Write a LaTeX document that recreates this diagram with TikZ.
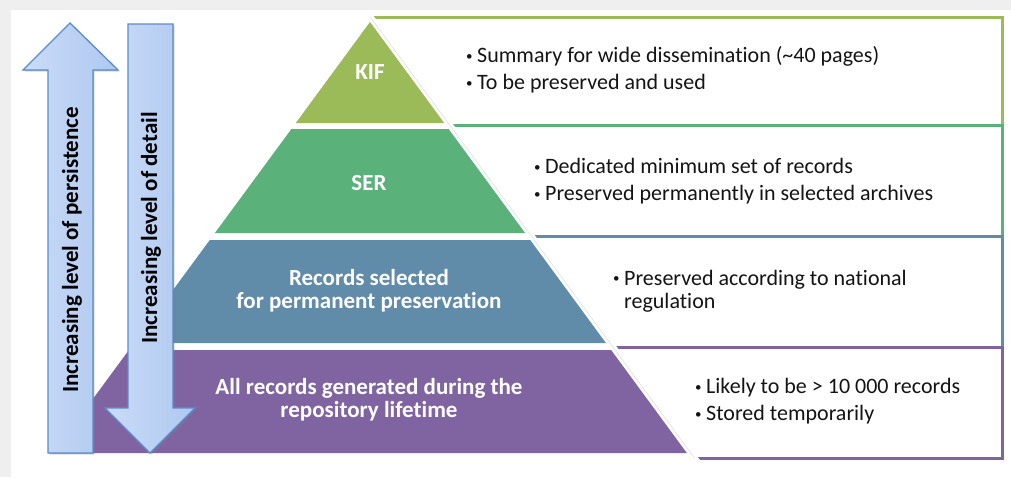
\documentclass[tikz,border=0pt]{standalone}
\usepackage{fontspec}
\setmainfont{Carlito}[Ligatures=NoCommon]
\usetikzlibrary{shadows}

\definecolor{kifc}{HTML}{9BBB59}
\definecolor{serc}{HTML}{5AB17A}
\definecolor{recc}{HTML}{608BA9}
\definecolor{allc}{HTML}{8064A2}
\definecolor{arrL}{HTML}{CADCF7}
\definecolor{arrR}{HTML}{AEC8F0}
\definecolor{arrline}{HTML}{5B8CCB}
\definecolor{framegray}{HTML}{EFEFEF}
\definecolor{txt}{HTML}{141414}

% small list bullet followed by the gap before the item text
\newcommand\itemdot{\makebox[11pt][l]{\raisebox{2.3pt}{\fontsize{13}{13}\selectfont\textbullet}}}

\begin{document}
\begin{tikzpicture}[x=1pt,y=-1pt,
  lay/.style={text=white, inner sep=0pt, align=center,
    font=\fontsize{23}{23}\selectfont\bfseries},
  bul/.style={anchor=west, inner sep=0pt, align=left, text=txt,
    font=\fontsize{22}{27}\selectfont},
  boxline/.style={line width=3pt},
  bigarrow/.style={draw=arrline, line width=1.3pt, line join=miter,
    left color=arrL, right color=arrR,
    drop shadow={opacity=0.3, shadow xshift=1.5pt, shadow yshift=-1.5pt}},
  arrtext/.style={rotate=90, inner sep=0pt, text=black,
    font=\fontsize{23}{24}\selectfont\bfseries}
]
\useasboundingbox (0,0) rectangle (1011,477);
% page background with a light frame on top and left
\fill[framegray] (0,0) rectangle (1011,477);
\fill[white] (11,10) rectangle (1011,477);

% description boxes behind the pyramid
\draw[boxline, kifc] (300,17) rectangle (1002,125);
\draw[boxline, serc] (300,125) rectangle (1002,236);
\draw[boxline, recc] (300,236) rectangle (1002,347);
\draw[boxline, allc] (300,347) rectangle (1002,458);

% white band separating the pyramid from the boxes
\fill[white] (12,12) -- (370.6,12) -- (700.7,461) -- (12,461) -- cycle;
\draw[black!12, line width=0.6pt] (370.3,17) -- (694.5,458);

% pyramid layers
\fill[kifc] (370,22) -- (444.2,123) -- (295.8,123) -- cycle;
\fill[serc] (291.4,129) -- (448.6,129) -- (525.1,233) -- (214.9,233) -- cycle;
\fill[recc] (209.8,240) -- (530.2,240) -- (605.9,343) -- (134.1,343) -- cycle;
\fill[allc] (128.9,350) -- (611.1,350) -- (686.8,453) -- (53.2,453) -- cycle;

\node[lay] (kif) at (370,72) {KIF};
\node[lay] (ser) at (369,183) {SER};
\node[lay] (rec) at (369,291) {Records selected\\for permanent preservation};
\node[lay] (all) at (369,400) {All records generated during the\\repository lifetime};

% bullet texts
\node[bul] (kiftxt) at (466,70)
  {\itemdot Summary for wide dissemination (\textasciitilde40 pages)\\
   \itemdot To be preserved and used};
\node[bul] (sertxt) at (534,181)
  {\itemdot Dedicated minimum set of records\\
   \itemdot Preserved permanently in selected archives};
\node[bul, font=\fontsize{22}{23}\selectfont] (rectxt) at (613,291)
  {\itemdot Preserved according to national\\
   \hphantom{\itemdot}regulation};
\node[bul] (alltxt) at (695,401)
  {\itemdot Likely to be \textgreater{} 10~000 records\\
   \itemdot Stored temporarily};

% direction arrows
\filldraw[bigarrow] (70,23) -- (118,70) -- (93,70) -- (93,453) -- (48,453)
  -- (48,70) -- (23,70) -- cycle;
\filldraw[bigarrow] (128,24) -- (173,24) -- (173,408) -- (195,408)
  -- (150,453) -- (105,408) -- (128,408) -- cycle;
\node[arrtext] (persist) at (72,250) {Increasing level of persistence};
\node[arrtext] (detail) at (151,228) {Increasing level of detail};
\end{tikzpicture}
\end{document}
